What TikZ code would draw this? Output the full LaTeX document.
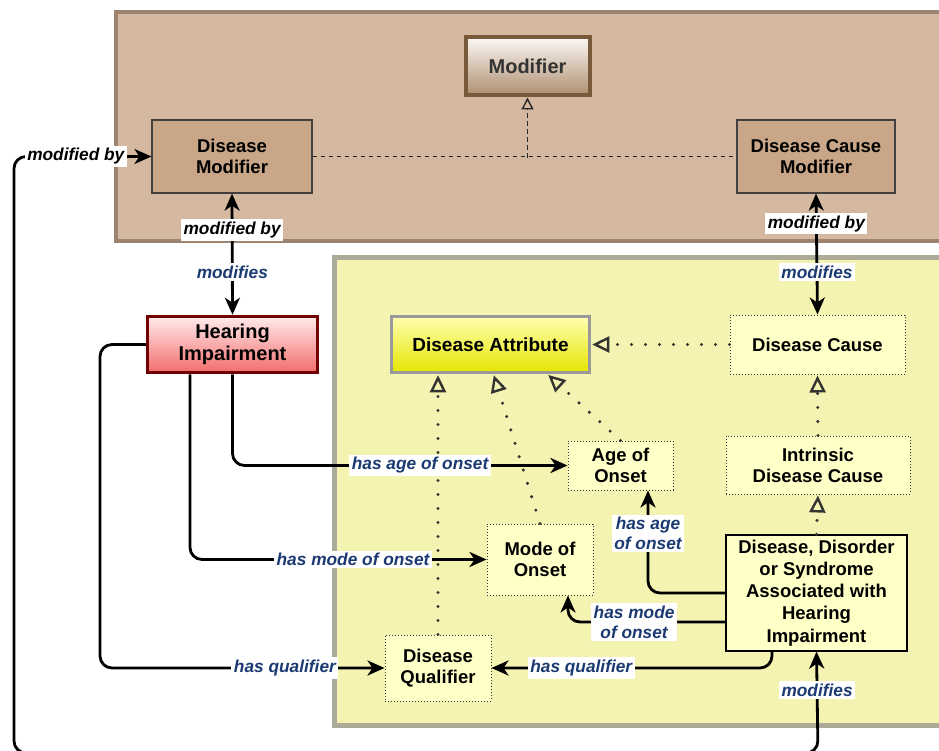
\documentclass[tikz,border=0pt]{standalone}
\usepackage{fontspec}
\setmainfont{Liberation Sans}
\usetikzlibrary{arrows.meta}
\definecolor{panelbrown}{HTML}{D4B9A0}
\definecolor{panelbrownline}{HTML}{9C8470}
\definecolor{panelyellow}{HTML}{F5F3B1}
\definecolor{panelyellowline}{HTML}{ABAB98}
\definecolor{boxbrown}{HTML}{C8A687}
\definecolor{boxyellow}{HTML}{FFFFC8}
\definecolor{relblue}{HTML}{1B3A72}
\definecolor{hidark}{HTML}{730000}
\tikzset{
  cls/.style={draw=black!75,line width=1.2pt,fill=boxbrown,align=center,inner sep=0pt,
    font=\fontsize{18.5}{21}\selectfont\bfseries},
  attr/.style={draw=black!80,dotted,line width=1pt,fill=boxyellow,align=center,inner sep=0pt,
    font=\fontsize{18.5}{21}\selectfont\bfseries},
  rel/.style={draw,line width=2.8pt,rounded corners=12pt},
  isa/.style={draw=black!80,line width=3.4pt,dash pattern=on 0pt off 14pt,line cap=round,
    -{Triangle[open,length=17pt,width=16pt,line width=2.4pt,line cap=butt,sep=1pt]}},
  realize/.style={draw=black!85,line width=1.4pt,dash pattern=on 4.5pt off 3.5pt},
  lbk/.style={fill=white,inner sep=2.5pt,sharp corners,text=black,align=center,
    font=\fontsize{17.3}{20}\selectfont\bfseries\itshape},
  lbb/.style={lbk,text=relblue}
}
\begin{document}
\begin{tikzpicture}[x=1pt,y=-1pt,>={Stealth[length=17pt,width=15pt,inset=5pt]}]
  \useasboundingbox (0,0) rectangle (939,751);
  \filldraw[fill=panelbrown,draw=panelbrownline,line width=4pt] (116,12) rectangle (960,241);
  \filldraw[fill=panelyellow,draw=panelyellowline,line width=5pt] (334,258) rectangle (960,725);

  \node[draw=brown!55!black!90,line width=4pt,top color=white!94!brown,bottom color=brown!60!white!80!black,
    minimum width=124pt,minimum height=58pt,text=black!80,font=\fontsize{20}{22}\selectfont\bfseries] at (527.5,66.5) (modifier) {Modifier};
  \node[cls,minimum width=160pt,minimum height=73pt] at (232,156.5) (dismod) {Disease\\Modifier};
  \node[cls,minimum width=158pt,minimum height=73pt] at (816,156.5) (causemod) {Disease Cause\\Modifier};
  \coordinate (mjoin) at (527.5,158);

  \node[draw=hidark,line width=3.5pt,top color=red!8,bottom color=red!55!white!95!black,align=center,
    minimum width=170pt,minimum height=56pt,inner sep=0pt,font=\fontsize{20}{22}\selectfont\bfseries] at (232.5,344.5) (hearing) {Hearing\\Impairment};
  \node[draw=black!40,line width=3.5pt,top color=yellow!30!white,bottom color=yellow!90!black,
    minimum width=198pt,minimum height=56pt,font=\fontsize{19}{21}\selectfont\bfseries] at (490.5,344.5) (disattr) {Disease Attribute};
  \node[attr,minimum width=175pt,minimum height=59pt] at (817.5,344.5) (discause) {Disease Cause};
  \node[attr,minimum width=184pt,minimum height=58pt] at (818,465) (intrinsic) {Intrinsic\\Disease Cause};
  \node[attr,minimum width=105pt,minimum height=49pt] at (620.5,465.5) (ageonset) {Age of\\Onset};
  \node[attr,minimum width=106pt,minimum height=71pt] at (540,559.5) (modeonset) {Mode of\\Onset};
  \node[attr,minimum width=106pt,minimum height=66pt] at (438,668) (qualifier) {Disease\\Qualifier};
  \node[draw,line width=1.2pt,fill=boxyellow,align=center,inner sep=0pt,minimum width=181pt,minimum height=116pt,
    font=\fontsize{18.5}{22.2}\selectfont\bfseries] at (816.5,593) (syndrome) {Disease, Disorder\\or Syndrome\\Associated with\\Hearing\\Impairment};

  \draw[realize] (dismod.east) -- (causemod.west);
  \draw[realize,-{Triangle[open,length=12pt,width=12pt,line width=1.4pt]}] (mjoin) -- (modifier.south);

  \draw[isa] (discause.west) -- (disattr.east);
  \draw[isa] (intrinsic.north) -- (discause.south);
  \draw[isa] (syndrome.north) -- (intrinsic.south);
  \draw[isa] (ageonset.north) -- ([xshift=57pt]disattr.south);
  \draw[isa] (modeonset.north) -- ([xshift=3pt]disattr.south);
  \draw[isa] (qualifier.north) -- ([xshift=-52.5pt]disattr.south);

  \draw[rel,<->] (hearing.north) -- node[lbb,pos=0.35]{modifies} node[lbk,pos=0.70]{modified by} (dismod.south);
  \draw[rel,<->] (discause.north) -- node[lbb,pos=0.35]{modifies} node[lbk,pos=0.75]{modified by} (causemod.south);
  \draw[rel,->] (hearing.south) |- node[lbb,pos=0.78]{has age of onset} (ageonset.west);
  \draw[rel,->] ([xshift=-42.5pt]hearing.south) |- node[lbb,pos=0.775]{has mode of onset} (modeonset.west);
  \draw[rel,->] (hearing.west) -- (100,344.5) |- node[lbb,pos=0.825]{has qualifier} (qualifier.west);
  \draw[rel,->] (syndrome.west) -| node[lbb,pos=0.79]{has age\\of onset} ([xshift=27.5pt]ageonset.south);
  \draw[rel,->] ([yshift=-29pt]syndrome.west) -| node[lbb,pos=0.29]{has mode\\of onset} ([xshift=28pt]modeonset.south);
  \draw[rel,->] ([xshift=-44.5pt]syndrome.south) |- node[lbb,pos=0.84]{has qualifier} (qualifier.east);
  \draw[rel,<->] (dismod.west) -- node[lbk,pos=0.55]{modified by} (14,156.5) -- (14,753) -- (818,753) -- node[lbb,pos=0.62]{modifies} (syndrome.south);
\end{tikzpicture}
\end{document}
